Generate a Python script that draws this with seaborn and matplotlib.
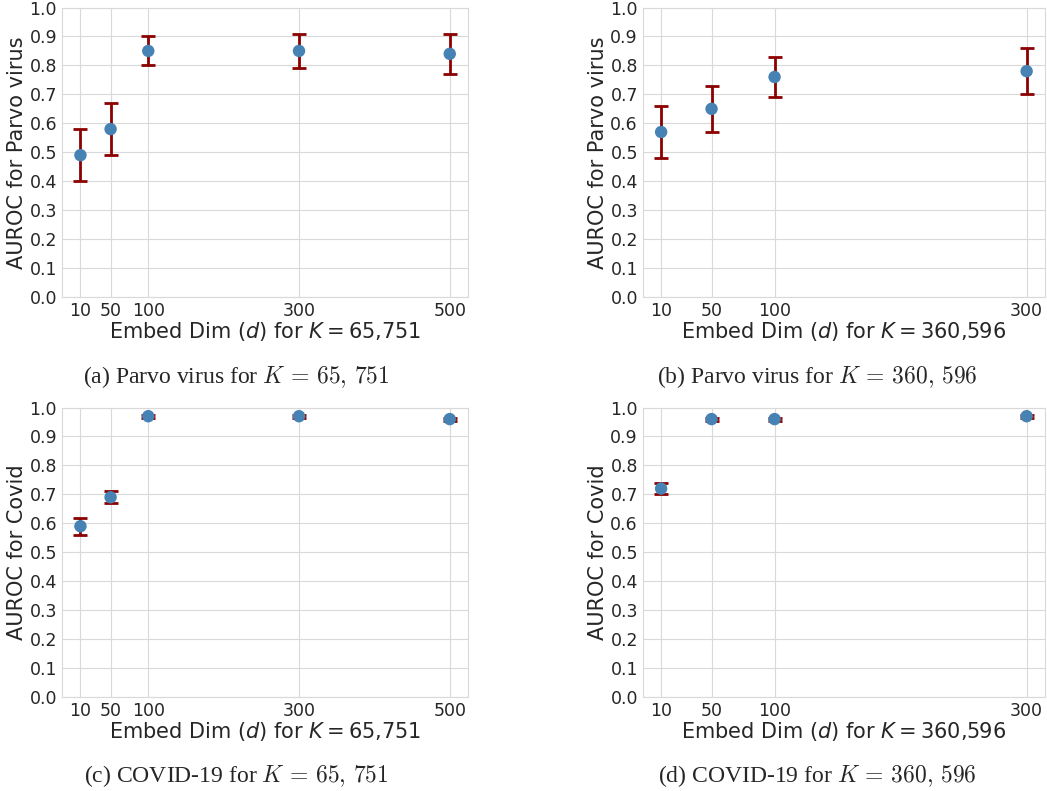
import numpy as np
import pandas as pd
import matplotlib
matplotlib.use("Agg")
import matplotlib.pyplot as plt
import seaborn as sns

# datos
dims_65k = [10, 50, 100, 300, 500]
dims_360k = [10, 50, 100, 300]

parvo_65k = [0.49, 0.58, 0.85, 0.85, 0.84]
parvo_65k_err = [0.09, 0.09, 0.05, 0.06, 0.07]
parvo_360k = [0.57, 0.65, 0.76, 0.78]
parvo_360k_err = [0.09, 0.08, 0.07, 0.08]

covid_65k = [0.59, 0.69, 0.97, 0.97, 0.96]
covid_65k_err = [0.03, 0.02, 0.005, 0.005, 0.005]
covid_360k = [0.72, 0.96, 0.96, 0.97]
covid_360k_err = [0.02, 0.005, 0.005, 0.005]

yticks = [round(0.1 * i, 1) for i in range(11)]

sns.set_style("whitegrid", {"grid.color": ".85", "axes.edgecolor": ".85"})

fig = plt.figure(figsize=(10.47, 7.91), dpi=100)

paneles = [
    # (pos, dims, y, err, ylabel, xlabel, caption, caption_xy)
    ([0.0592, 0.6245, 0.388, 0.366], dims_65k, parvo_65k, parvo_65k_err,
     "AUROC for Parvo virus", r"Embed Dim ($d$) for $K = 65{,}751$",
     r"(a) Parvo virus for $K\,=\,65,\,751$", (0.226, 0.5234)),
    ([0.614, 0.6245, 0.384, 0.366], dims_360k, parvo_360k, parvo_360k_err,
     "AUROC for Parvo virus", r"Embed Dim ($d$) for $K = 360{,}596$",
     r"(b) Parvo virus for $K\,=\,360,\,596$", (0.781, 0.5234)),
    ([0.0592, 0.1188, 0.388, 0.366], dims_65k, covid_65k, covid_65k_err,
     "AUROC for Covid", r"Embed Dim ($d$) for $K = 65{,}751$",
     r"(c) COVID-19 for $K\,=\,65,\,751$", (0.226, 0.019)),
    ([0.614, 0.1188, 0.384, 0.366], dims_360k, covid_360k, covid_360k_err,
     "AUROC for Covid", r"Embed Dim ($d$) for $K = 360{,}596$",
     r"(d) COVID-19 for $K\,=\,360,\,596$", (0.781, 0.019)),
]

for pos, dims, y, err, ylab, xlab, cap, cxy in paneles:
    ax = fig.add_axes(pos)
    df = pd.DataFrame({"dim": dims, "auroc": y, "err": err})
    ax.errorbar(df["dim"], df["auroc"], yerr=df["err"], fmt="none",
                ecolor="darkred", elinewidth=2, capsize=5, capthick=2, zorder=2)
    sns.scatterplot(data=df, x="dim", y="auroc", ax=ax, color="steelblue",
                    s=80, edgecolor="none", zorder=3)
    ax.set_ylim(0, 1.0)
    ax.set_yticks(yticks)
    ax.set_xticks(dims)
    ax.tick_params(labelsize=12.5, pad=0)
    ax.set_xlabel(xlab, fontsize=15, labelpad=0)
    ax.set_ylabel(ylab, fontsize=15, labelpad=1.5)
    fig.text(cxy[0], cxy[1], cap, ha="center", va="center", fontsize=17,
             family="Liberation Serif", math_fontfamily="cm")

fig.savefig("out.png", dpi=100)
